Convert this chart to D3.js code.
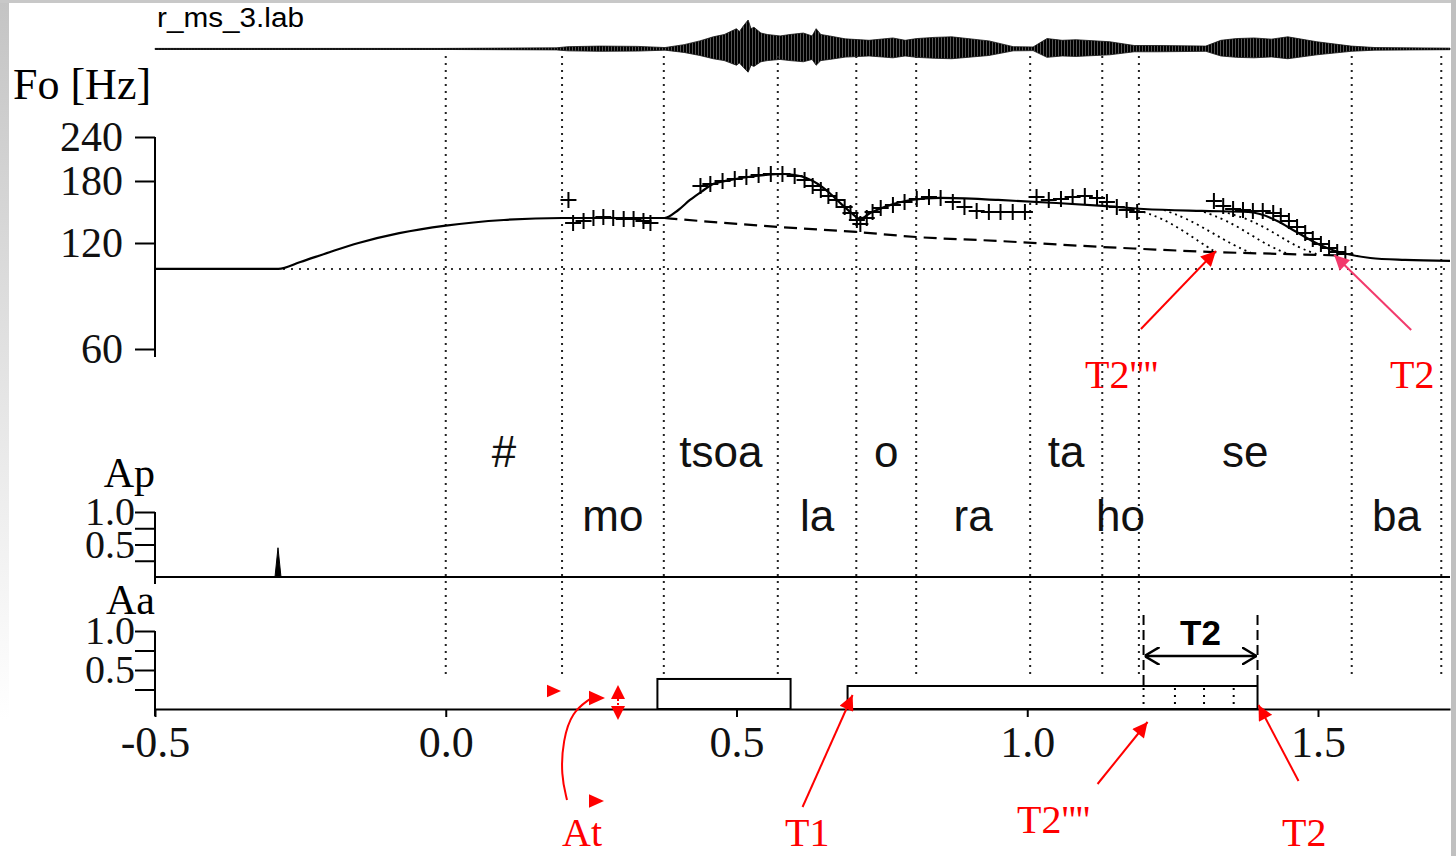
<!DOCTYPE html>
<html>
<head>
<meta charset="utf-8">
<script src="https://cdn.jsdelivr.net/npm/d3@7"></script>
<style>
  body { margin: 0; background: #fff; }
  svg { display: block; }
</style>
</head>
<body>
<div id="chart"></div>
<script>
// --- data (time in s, Fo in Hz) ---
const timeDomain = [-0.5, 1.727];
const timeTicks = [-0.5, 0.0, 0.5, 1.0, 1.5];
const foTicks = [60, 120, 180, 240];
const cmdTicks = [0.25, 0.5, 0.75, 1.0];
const cmdLabels = [0.5, 1.0];
const baseFreq = 101.3;

const boundaries = [0.0, 0.2, 0.375, 0.571, 0.706, 0.809, 1.005, 1.129, 1.192, 1.558, 1.712];
const syllables = ['#', 'mo', 'tsoa', 'la', 'o', 'ra', 'ta', 'ho', 'se', 'ba'];

// model contour (solid)
const modelT = [-0.5, -0.288, -0.25, -0.2, -0.15, -0.08, 0.0, 0.1, 0.2, 0.3, 0.376,
  0.40, 0.42, 0.44, 0.46, 0.49, 0.52, 0.55, 0.58, 0.60, 0.62, 0.64, 0.66, 0.68, 0.70, 0.712,
  0.73, 0.76, 0.80, 0.85, 0.95, 1.05, 1.13, 1.20, 1.30, 1.38, 1.40, 1.43, 1.46, 1.49, 1.52,
  1.55, 1.59, 1.65, 1.727];
const modelF = [101.3, 101.3, 106, 113, 120, 128, 134.5, 139.5, 141.3, 141.3, 141.3,
  148.9, 159, 168, 176.5, 181.2, 184.8, 187.2, 188.4, 187.2, 183.6, 176.5, 166.4, 155, 145, 140.4,
  146, 153, 159, 161.1, 159, 155.9, 152.9, 149.9, 148, 147, 145, 138.6, 129.8, 121.6, 115.4,
  111.7, 108.8, 107.4, 106.7];

// phrase component (dashed)
const phraseT = [0.376, 0.571, 0.706, 0.809, 0.95, 1.13, 1.2, 1.32, 1.44, 1.54];
const phraseF = [141.3, 133.3, 129, 124.8, 121.6, 116.9, 115.4, 113.1, 111.7, 110.6];

// alternative accent offsets (dotted decays)
const altT1 = [1.200, 1.230, 1.264, 1.299, 1.321];
const altF1 = [147, 141.3, 131.5, 120, 113.9];
const altT2 = [1.235, 1.273, 1.316, 1.354, 1.385];
const altF2 = [148.9, 141.3, 128.9, 118.4, 112.4];
const altT3 = [1.304, 1.342, 1.385, 1.419, 1.445];
const altF3 = [147, 139.5, 126.5, 116.9, 112.4];
const altT4 = [1.345, 1.385, 1.428, 1.467, 1.502];
const altF4 = [146, 139.5, 127.3, 116.1, 111];

// observed Fo (+ marks)
const obsT = [0.211, 0.219, 0.237, 0.254, 0.271, 0.288, 0.306, 0.323, 0.340, 0.352,
  0.438, 0.455, 0.476, 0.497, 0.517, 0.538, 0.559, 0.579, 0.600, 0.617, 0.631, 0.645, 0.658,
  0.672, 0.686, 0.696, 0.707, 0.713, 0.724, 0.734,
  0.748, 0.769, 0.789, 0.810, 0.831, 0.851, 0.872, 0.892, 0.913, 0.934, 0.954, 0.975, 0.996,
  1.016, 1.037, 1.058, 1.078, 1.099, 1.120, 1.137, 1.154, 1.171, 1.189,
  1.321, 1.337, 1.354, 1.371, 1.388, 1.405, 1.423, 1.436, 1.450, 1.464, 1.478, 1.491, 1.505,
  1.519, 1.533, 1.547];
const obsF = [159, 136.8, 138.6, 141.3, 142.3, 141.3, 140.4, 140.4, 138.6, 136.8,
  174.2, 176.5, 180, 182.4, 184.8, 187.2, 188.4, 188.4, 186, 181.2, 174.2, 169.7, 163.2,
  159, 151.9, 146, 139.5, 135.9, 141.3, 147,
  150.9, 153.9, 157, 160, 162.1, 161.1, 156.9, 151.9, 148, 147, 147, 147, 147,
  162.1, 159, 160, 162.1, 163.2, 161.1, 156.9, 151.9, 148.9, 147,
  157.9, 152.9, 149.9, 148.9, 148, 148, 146, 143.2, 138.6, 133.3, 128.1, 123.2, 119.2,
  116.1, 113.1, 111.7];

// speech waveform envelope (relative)
const wavT = [-0.5, -0.01, 0.19, 0.21, 0.265, 0.33, 0.377, 0.41, 0.437, 0.46,
  0.479, 0.50, 0.505, 0.512, 0.52, 0.525, 0.53, 0.542, 0.553, 0.575, 0.592, 0.615, 0.63, 0.637,
  0.645, 0.66, 0.687, 0.728, 0.769, 0.79, 0.81, 0.84, 0.87, 0.934, 0.976, 1.01, 1.034,
  1.06, 1.084, 1.142, 1.184, 1.225, 1.307, 1.333, 1.36, 1.39, 1.42, 1.448, 1.498, 1.557,
  1.598, 1.727];
const wavAmp = [0.02, 0.02, 0.04, 0.08, 0.1, 0.09, 0.05, 0.15, 0.28, 0.42,
  0.5, 0.7, 0.6, 0.8, 1.0, 0.7, 0.75, 0.55, 0.5, 0.45, 0.5, 0.55, 0.45, 0.7,
  0.5, 0.45, 0.35, 0.3, 0.38, 0.3, 0.36, 0.4, 0.42, 0.28, 0.08, 0.07, 0.36,
  0.3, 0.32, 0.25, 0.12, 0.12, 0.1, 0.3, 0.36, 0.38, 0.34, 0.42, 0.25, 0.1,
  0.05, 0.03];

// commands
const phraseCmdT = [-0.2885];
const phraseCmdAp = [0.45];
const accOn = [0.364, 0.691];
const accOff = [0.593, 1.396];
const accAmp = [0.385, 0.295];
const altOffsets = [1.2, 1.254, 1.304, 1.355];

// --- drawing ---
const W = 1456, H = 856;
const serif = '"Liberation Serif","Times New Roman",serif';
const sans = '"Liberation Sans",Arial,Helvetica,sans-serif';

const svg = d3.select('#chart').append('svg').attr('width', W).attr('height', H);

const defs = svg.append('defs');
const grad = defs.append('linearGradient').attr('id', 'lg').attr('x1', 0).attr('y1', 0).attr('x2', 0).attr('y2', 1);
grad.append('stop').attr('offset', '0%').attr('stop-color', '#c4c4c4');
grad.append('stop').attr('offset', '70%').attr('stop-color', '#eeeeee');
grad.append('stop').attr('offset', '100%').attr('stop-color', '#ffffff');
const stripes = defs.append('pattern').attr('id', 'wavFill').attr('width', 3).attr('height', 4)
  .attr('patternUnits', 'userSpaceOnUse');
stripes.append('rect').attr('width', 3).attr('height', 4).attr('fill', '#555');
stripes.append('rect').attr('width', 2).attr('height', 4).attr('fill', '#000');
defs.append('marker').attr('id', 'redHead').attr('viewBox', '0 0 10 10')
  .attr('refX', 10).attr('refY', 5).attr('markerWidth', 19).attr('markerHeight', 15)
  .attr('markerUnits', 'userSpaceOnUse').attr('orient', 'auto')
  .append('path').attr('d', 'M0,0L10,5L0,10z').attr('fill', '#ff0000');
defs.append('marker').attr('id', 'pinkHead').attr('viewBox', '0 0 10 10')
  .attr('refX', 10).attr('refY', 5).attr('markerWidth', 19).attr('markerHeight', 15)
  .attr('markerUnits', 'userSpaceOnUse').attr('orient', 'auto')
  .append('path').attr('d', 'M0,0L10,5L0,10z').attr('fill', '#f23a6c');
defs.append('marker').attr('id', 'openHead').attr('viewBox', '0 0 10 12')
  .attr('refX', 10).attr('refY', 6).attr('markerWidth', 15).attr('markerHeight', 18)
  .attr('markerUnits', 'userSpaceOnUse').attr('orient', 'auto-start-reverse')
  .append('path').attr('d', 'M0,0L10,6L0,12').attr('fill', 'none').attr('stroke', '#000').attr('stroke-width', 1.6);

// slide background edges
svg.append('rect').attr('width', W).attr('height', H).attr('fill', '#fff');
svg.append('rect').attr('x', 0).attr('y', 0).attr('width', 9).attr('height', 720).attr('fill', 'url(#lg)');
svg.append('rect').attr('x', 0).attr('y', 0).attr('width', W).attr('height', 3).attr('fill', '#c8c8c8');
svg.append('rect').attr('x', 1451).attr('y', 0).attr('width', 5).attr('height', H).attr('fill', '#c0c0c0');

const x = d3.scaleLinear().domain(timeDomain).range([155, 1450]);
const yF = d3.scaleLog().domain([60, 240]).range([349, 137]);
const yAp = d3.scaleLinear().domain([0, 1]).range([577, 512]);
const yAa = d3.scaleLinear().domain([0, 1]).range([709, 631]);
const yW = d3.scaleLinear().domain([-1, 1]).range([49 + 29, 49 - 29]);

// file label + waveform
svg.append('text').attr('x', 157).attr('y', 27).attr('font-family', sans).attr('font-size', 27)
  .attr('textLength', 147).attr('lengthAdjust', 'spacingAndGlyphs').text('r_ms_3.lab');
svg.append('line').attr('x1', x(timeDomain[0])).attr('x2', x(timeDomain[1]))
  .attr('y1', yW(0)).attr('y2', yW(0)).attr('stroke', '#000').attr('stroke-width', 1.6);
const wav = wavT.map((t, i) => ({ t, a: wavAmp[i] }));
svg.append('path').datum(wav)
  .attr('d', d3.area().x(d => x(d.t)).y0(d => yW(-0.8 * d.a)).y1(d => yW(d.a)))
  .attr('fill', 'url(#wavFill)').attr('stroke', '#111').attr('stroke-width', 0.8);

// segment boundaries
svg.append('g').selectAll('line').data(boundaries).join('line')
  .attr('x1', d => x(d)).attr('x2', d => x(d)).attr('y1', 56).attr('y2', 678)
  .attr('stroke', '#222').attr('stroke-width', 2).attr('stroke-dasharray', '2,5');

// Fo axis
const foAxis = svg.append('g').attr('transform', `translate(${x(timeDomain[0])},0)`)
  .call(d3.axisLeft(yF).tickValues(foTicks).tickFormat(d3.format('d')).tickSize(20).tickPadding(12));
foAxis.select('.domain').remove();
foAxis.selectAll('line').attr('stroke-width', 2);
foAxis.selectAll('text').attr('font-family', serif).attr('font-size', 42).attr('fill', '#111');
svg.append('line').attr('x1', x(timeDomain[0])).attr('x2', x(timeDomain[0]))
  .attr('y1', yF(240)).attr('y2', yF(60) + 8).attr('stroke', '#000').attr('stroke-width', 2);
svg.append('text').attr('x', 13).attr('y', 99).attr('font-family', serif).attr('font-size', 44).text('Fo [Hz]');

// base frequency
svg.append('line').attr('x1', x(timeDomain[0])).attr('x2', x(timeDomain[1]))
  .attr('y1', yF(baseFreq)).attr('y2', yF(baseFreq))
  .attr('stroke', '#333').attr('stroke-width', 2).attr('stroke-dasharray', '2,6');

const lineF = d3.line().x(d => x(d[0])).y(d => yF(d[1])).curve(d3.curveMonotoneX);
const zip = (a, b) => a.map((v, i) => [v, b[i]]);

svg.append('path').attr('d', lineF(zip(phraseT, phraseF))).attr('fill', 'none')
  .attr('stroke', '#000').attr('stroke-width', 2.2).attr('stroke-dasharray', '13,7');
[[altT1, altF1], [altT2, altF2], [altT3, altF3], [altT4, altF4]].forEach(([t, f]) => {
  svg.append('path').attr('d', d3.line().x(d => x(d[0])).y(d => yF(d[1])).curve(d3.curveBasis)(zip(t, f)))
    .attr('fill', 'none').attr('stroke', '#000').attr('stroke-width', 1.8).attr('stroke-dasharray', '2,4');
});
svg.append('path').attr('d', lineF(zip(modelT, modelF))).attr('fill', 'none')
  .attr('stroke', '#000').attr('stroke-width', 2.2);

svg.append('g').selectAll('path').data(zip(obsT, obsF)).join('path')
  .attr('d', d => `M${x(d[0]) - 8},${yF(d[1])}h16M${x(d[0])},${yF(d[1]) - 8}v16`)
  .attr('stroke', '#000').attr('stroke-width', 2);

// syllable labels
svg.append('g').selectAll('text').data(syllables).join('text')
  .attr('x', (d, i) => x((boundaries[i] + boundaries[i + 1]) / 2))
  .attr('y', (d, i) => i % 2 === 0 ? 467 : 531)
  .attr('text-anchor', 'middle').attr('font-family', sans).attr('font-size', 44).attr('fill', '#111')
  .text(d => d);

// Ap panel
const apAxis = svg.append('g').attr('transform', `translate(${x(timeDomain[0])},0)`)
  .call(d3.axisLeft(yAp).tickValues(cmdTicks)
    .tickFormat(d => cmdLabels.includes(d) ? d.toFixed(1) : '').tickSize(20).tickPadding(0));
apAxis.select('.domain').remove();
apAxis.selectAll('line').attr('stroke-width', 2);
apAxis.selectAll('text').attr('font-family', serif).attr('font-size', 40).attr('fill', '#111');
svg.append('line').attr('x1', x(timeDomain[0])).attr('x2', x(timeDomain[0]))
  .attr('y1', yAp(1)).attr('y2', yAp(0) + 7).attr('stroke', '#000').attr('stroke-width', 2);
svg.append('line').attr('x1', x(timeDomain[0])).attr('x2', x(timeDomain[1]))
  .attr('y1', yAp(0)).attr('y2', yAp(0)).attr('stroke', '#000').attr('stroke-width', 2);
svg.append('text').attr('x', 155).attr('y', 487).attr('text-anchor', 'end')
  .attr('font-family', serif).attr('font-size', 42).text('Ap');
svg.append('g').selectAll('path').data(zip(phraseCmdT, phraseCmdAp)).join('path')
  .attr('d', d => `M${x(d[0]) - 3},${yAp(0)}L${x(d[0])},${yAp(d[1])}L${x(d[0]) + 3},${yAp(0)}Z`)
  .attr('fill', '#000').attr('stroke', '#000').attr('stroke-width', 1);

// Aa panel
const aaAxis = svg.append('g').attr('transform', `translate(${x(timeDomain[0])},0)`)
  .call(d3.axisLeft(yAa).tickValues(cmdTicks)
    .tickFormat(d => cmdLabels.includes(d) ? d.toFixed(1) : '').tickSize(20).tickPadding(0));
aaAxis.select('.domain').remove();
aaAxis.selectAll('line').attr('stroke-width', 2);
aaAxis.selectAll('text').attr('font-family', serif).attr('font-size', 40).attr('fill', '#111');
svg.append('line').attr('x1', x(timeDomain[0])).attr('x2', x(timeDomain[0]))
  .attr('y1', yAa(1)).attr('y2', yAa(0) + 7).attr('stroke', '#000').attr('stroke-width', 2);
svg.append('text').attr('x', 155).attr('y', 614).attr('text-anchor', 'end')
  .attr('font-family', serif).attr('font-size', 42).text('Aa');

svg.append('g').selectAll('rect').data(accOn).join('rect')
  .attr('x', (d, i) => x(d)).attr('y', (d, i) => yAa(accAmp[i]))
  .attr('width', (d, i) => x(accOff[i]) - x(d)).attr('height', (d, i) => yAa(0) - yAa(accAmp[i]))
  .attr('fill', 'none').attr('stroke', '#000').attr('stroke-width', 2);
svg.append('g').selectAll('line').data(altOffsets).join('line')
  .attr('x1', d => x(d)).attr('x2', d => x(d)).attr('y1', yAa(accAmp[1]) + 2).attr('y2', yAa(0))
  .attr('stroke', '#000').attr('stroke-width', 2).attr('stroke-dasharray', '2,5');

// time axis
const xAxis = svg.append('g').attr('transform', `translate(0,${yAa(0)})`)
  .call(d3.axisBottom(x).tickValues(timeTicks).tickFormat(d => d.toFixed(1))
    .tickSize(8).tickPadding(9).tickSizeOuter(0));
xAxis.select('.domain').attr('stroke-width', 2);
xAxis.selectAll('line').attr('stroke-width', 2);
xAxis.selectAll('text').attr('font-family', serif).attr('font-size', 44).attr('fill', '#111');

// T2 dimension
const t2a = x(altOffsets[0]), t2b = x(accOff[1]);
[[t2a, yAa(accAmp[1])], [t2b, yAa(accAmp[1])]].forEach(([px, py]) => {
  svg.append('line').attr('x1', px).attr('x2', px).attr('y1', 615).attr('y2', py)
    .attr('stroke', '#000').attr('stroke-width', 2).attr('stroke-dasharray', '10,5');
});
svg.append('line').attr('x1', t2a + 1).attr('x2', t2b - 1).attr('y1', 656).attr('y2', 656)
  .attr('stroke', '#000').attr('stroke-width', 2.4)
  .attr('marker-start', 'url(#openHead)').attr('marker-end', 'url(#openHead)');
svg.append('text').attr('x', (t2a + t2b) / 2).attr('y', 645).attr('text-anchor', 'middle')
  .attr('font-family', sans).attr('font-weight', 'bold').attr('font-size', 35).text('T2');

// red annotations
const red = '#ff0000';
function arrow(x1, y1, x2, y2, head, col) {
  svg.append('line').attr('x1', x1).attr('y1', y1).attr('x2', x2).attr('y2', y2)
    .attr('stroke', col).attr('stroke-width', 2).attr('marker-end', `url(#${head})`);
}
function redText(tx, ty, s) {
  svg.append('text').attr('x', tx).attr('y', ty).attr('font-family', serif).attr('font-size', 40)
    .attr('fill', red).text(s);
}
// Fo panel
const tipA = [x(altT1[4]) + 2, yF(altF1[4])];
arrow(tipA[0] - 75, tipA[1] + 78, tipA[0], tipA[1], 'redHead', red);
redText(1085, 388, "T2''''");
const tipB = [x(altT4[4]) + 15, yF(altF4[4])];
arrow(tipB[0] + 77, tipB[1] + 75, tipB[0], tipB[1], 'pinkHead', '#f23a6c');
redText(1390, 388, 'T2');

// Aa panel
const tipT1 = [x(accOn[1]) + 5, yAa(0) - 14];
arrow(tipT1[0] - 50, tipT1[1] + 112, tipT1[0], tipT1[1], 'redHead', red);
redText(785, 846, 'T1');
const tipC = [x(altOffsets[0]) + 4, yAa(0) + 13];
arrow(tipC[0] - 50, tipC[1] + 62, tipC[0], tipC[1], 'redHead', red);
redText(1017, 833, "T2''''");
const tipD = [x(accOff[1]) + 1, yAa(0) - 4];
arrow(tipD[0] + 40, tipD[1] + 76, tipD[0], tipD[1], 'redHead', red);
redText(1282, 846, 'T2');

// At marker
const b0 = yAa(0);
svg.append('path').attr('d', d3.line().curve(d3.curveBasis)([[567, 800], [561, 775], [563, 740], [572, 712], [590, 699]]))
  .attr('fill', 'none').attr('stroke', red).attr('stroke-width', 2);
const tri = (px, py, dir, s) => dir === 'r'
  ? `M${px},${py - s * 0.45}L${px + s},${py}L${px},${py + s * 0.45}Z`
  : dir === 'u' ? `M${px - s * 0.5},${py}L${px},${py - s}L${px + s * 0.5},${py}Z`
  : `M${px - s * 0.5},${py}L${px},${py + s}L${px + s * 0.5},${py}Z`;
[[547, b0 - 18, 'r', 14], [589, b0 - 11, 'r', 16], [589, 801, 'r', 15],
 [618, b0 - 10, 'u', 14], [618, b0 - 3, 'd', 14]].forEach(([px, py, dir, s]) => {
  svg.append('path').attr('d', tri(px, py, dir, s)).attr('fill', red);
});
svg.append('line').attr('x1', 618).attr('x2', 618).attr('y1', b0 - 10).attr('y2', b0 - 3)
  .attr('stroke', red).attr('stroke-width', 2).attr('stroke-dasharray', '2,2');
redText(562, 846, 'At');
</script>
</body>
</html>
